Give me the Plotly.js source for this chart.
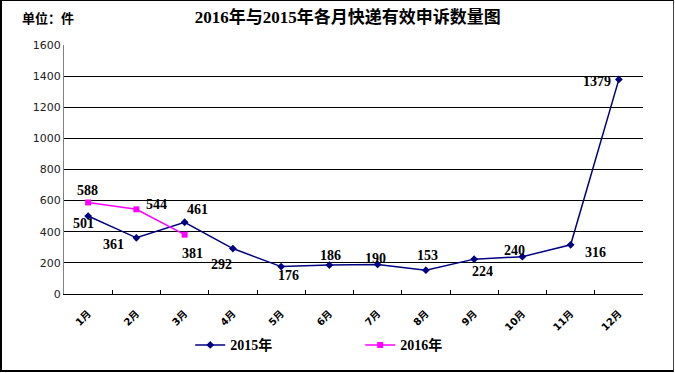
<!DOCTYPE html>
<html>
<head>
<meta charset="utf-8">
<script src="https://cdn.plot.ly/plotly-3.0.1.min.js"></script>
<style>
  html, body { margin: 0; padding: 0; background: #fff; }
  #wrap { position: relative; width: 675px; height: 373px; }
  #chart { width: 675px; height: 373px; }
  #frame { position: absolute; left: 0; top: 0; width: 674px; height: 372px;
           border-left: 2px solid #000; border-bottom: 2px solid #000;
           border-top: 1px solid #000; border-right: 1px solid #444;
           box-sizing: border-box; pointer-events: none; }
</style>
</head>
<body>
<div id="wrap">
  <div id="chart"></div>
  <div id="frame"></div>
</div>
<script>
// ---- data ----
const months = ['1月','2月','3月','4月','5月','6月','7月','8月','9月','10月','11月','12月'];
const series2015Name = '2015年';
const series2016Name = '2016年';
const values2015 = [501, 361, 461, 292, 176, 186, 190, 153, 224, 240, 316, 1379];
const values2016 = [588, 544, 381];
const yTickVals = [0, 200, 400, 600, 800, 1000, 1200, 1400, 1600];
const titleText = '2016年与2015年各月快递有效申诉数量图';
const unitText = '单位：件';

// ---- label placement (pixel shifts, styling only) ----
const shift2015 = [[-5,-7],[-23,-7],[13,13],[-11,-16],[7,-9],[1,10],[-2,6],[2,15],[8,-12],[-8,6],[25,-8],[-22,-2]];
const shift2016 = [[-1,12],[20,5],[8,-19]];

const serif = '"Liberation Serif", "Times New Roman", "Noto Sans CJK SC", serif';
const labelFont = { family: serif, size: 14, color: '#000', weight: 'bold' };

const annotations = [];
values2015.forEach((v, i) => {
  annotations.push({ x: months[i], y: v, xref: 'x', yref: 'y', text: '<b>' + v + '</b>',
    showarrow: false, xshift: shift2015[i][0], yshift: shift2015[i][1], font: labelFont });
});
values2016.forEach((v, i) => {
  annotations.push({ x: months[i], y: v, xref: 'x', yref: 'y', text: '<b>' + v + '</b>',
    showarrow: false, xshift: shift2016[i][0], yshift: shift2016[i][1], font: labelFont });
});
annotations.push({ x: -0.076, y: 1.109, xref: 'paper', yref: 'paper', xanchor: 'left', yanchor: 'middle',
  text: '<b>' + unitText + '</b>', showarrow: false,
  font: { family: '"Noto Sans CJK SC", sans-serif', size: 13, color: '#000' } });

const traces = [
  { x: months, y: values2015, name: series2015Name, type: 'scatter', mode: 'lines+markers',
    line: { color: '#000080', width: 1.5 }, marker: { symbol: 'diamond', size: 6, color: '#000080' } },
  { x: months.slice(0, values2016.length), y: values2016, name: series2016Name, type: 'scatter', mode: 'lines+markers',
    line: { color: '#FF00FF', width: 1.5 }, marker: { symbol: 'square', size: 6, color: '#FF00FF' } }
];

const layout = {
  width: 675, height: 373,
  margin: { l: 64, r: 32, t: 45, b: 71 },
  paper_bgcolor: '#fff', plot_bgcolor: '#fff',
  title: { text: '<b>' + titleText + '</b>', xref: 'paper', x: 0.49, yref: 'container', y: 0.954,
           xanchor: 'center', yanchor: 'middle',
           font: { family: serif, size: 17, color: '#000' } },
  xaxis: { type: 'category', categoryorder: 'array', categoryarray: months, range: [-0.5, 11.5],
           tickson: 'boundaries', ticks: 'inside', ticklen: 4, tickcolor: '#000',
           tickangle: -45, ticklabelstandoff: 9, showgrid: false, zeroline: false, showline: true, linecolor: '#000', linewidth: 1,
           tickfont: { family: '"DejaVu Sans", "Noto Sans CJK SC", sans-serif', size: 10, color: '#000', weight: 'bold' },
           fixedrange: true },
  yaxis: { range: [0, 1600], tickmode: 'array', tickvals: yTickVals, showgrid: true, gridcolor: '#000', gridwidth: 1,
           zeroline: false, showline: true, linecolor: '#808080', linewidth: 1, ticks: '',
           tickfont: { family: '"DejaVu Sans", sans-serif', size: 11, color: '#222' }, fixedrange: true },
  showlegend: true,
  legend: { orientation: 'h', x: 0.218, xanchor: 'left', y: -0.206, yanchor: 'middle',
            entrywidth: 125, entrywidthmode: 'pixels',
            font: { family: serif, size: 14, color: '#000', weight: 'bold' }, bgcolor: 'rgba(0,0,0,0)' },
  annotations: annotations
};

Plotly.newPlot('chart', traces, layout, { displayModeBar: false, staticPlot: true });
</script>
</body>
</html>
